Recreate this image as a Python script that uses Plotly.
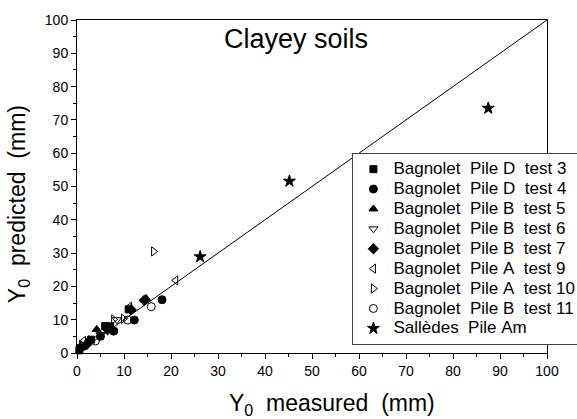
import plotly.graph_objects as go

NB = "\u00a0"

series_names = [
    f"Bagnolet{NB}{NB}Pile{NB}D{NB}{NB}test{NB}3",
    f"Bagnolet{NB}{NB}Pile{NB}D{NB}{NB}test{NB}4",
    f"Bagnolet{NB}{NB}Pile{NB}B{NB}{NB}test{NB}5",
    f"Bagnolet{NB}{NB}Pile{NB}B{NB}{NB}test{NB}6",
    f"Bagnolet{NB}{NB}Pile{NB}B{NB}{NB}test{NB}7",
    f"Bagnolet{NB}{NB}Pile{NB}A{NB}{NB}test{NB}9",
    f"Bagnolet{NB}{NB}Pile{NB}A{NB}{NB}test{NB}10",
    f"Bagnolet{NB}{NB}Pile{NB}B{NB}{NB}test{NB}11",
    f"Sallèdes{NB}{NB}Pile{NB}Am",
]

# measured (x) and predicted (y), mm
test3_x = [0.5, 3.0, 6.0, 7.0, 11.0]
test3_y = [0.8, 4.0, 8.1, 8.0, 13.1]
test4_x = [0.7, 5.0, 7.8, 12.2, 18.1]
test4_y = [1.6, 5.0, 6.6, 9.9, 16.0]
test5_x = [0.8, 2.5, 4.2, 14.7]
test5_y = [1.5, 4.0, 7.1, 16.4]
test6_x = [1.5, 5.0, 8.5]
test6_y = [2.5, 5.5, 10.0]
test7_x = [2.0, 6.5, 11.5, 14.3]
test7_y = [2.5, 7.0, 13.0, 15.8]
test9_x = [1.4, 2.5, 11.2, 21.0]
test9_y = [3.6, 3.5, 13.9, 21.8]
test10_x = [1.0, 7.8, 9.9, 16.3]
test10_y = [2.5, 10.1, 10.3, 30.5]
test11_x = [3.9, 7.8, 10.8, 15.8]
test11_y = [3.6, 6.6, 9.9, 13.9]
salledes_x = [26.2, 45.2, 87.5]
salledes_y = [28.9, 51.6, 73.5]

xs = [test3_x, test4_x, test5_x, test6_x, test7_x, test9_x, test10_x, test11_x, salledes_x]
ys = [test3_y, test4_y, test5_y, test6_y, test7_y, test9_y, test10_y, test11_y, salledes_y]
symbols = ["square", "circle", "triangle-up", "triangle-down-open", "diamond",
           "triangle-left-open", "triangle-right-open", "circle-open", "star"]
sizes = [7, 8, 8, 8, 8, 8, 8, 8, 9]

line_x = [0, 100]
line_y = [0, 100]

fig = go.Figure()
fig.add_trace(go.Scatter(x=line_x, y=line_y, mode="lines",
                         line=dict(color="black", width=1), showlegend=False,
                         hoverinfo="skip"))
for name, x, y, s, sz in zip(series_names, xs, ys, symbols, sizes):
    fig.add_trace(go.Scatter(
        x=x, y=y, mode="markers", cliponaxis=False,
        name=f"<span style='font-size:17px'>{name}</span>",
        marker=dict(symbol=s, size=sz, color="black",
                    line=dict(color="black", width=1)),
    ))

axis_common = dict(
    range=[0, 100], dtick=10, tick0=0, ticks="outside", ticklen=5, tickwidth=1,
    tickcolor="black", showline=True, linecolor="black", linewidth=1,
    mirror=True, showgrid=False, zeroline=False,
    tickfont=dict(family="Arial, Liberation Sans", size=14, color="black"),
    minor=dict(dtick=5, ticks="outside", ticklen=3, tickcolor="black", showgrid=False),
)

fig.update_layout(
    width=577, height=419,
    margin=dict(l=77, r=30, t=20, b=66, autoexpand=False),
    paper_bgcolor="white", plot_bgcolor="white",
    font=dict(family="Arial, Liberation Sans", color="black"),
    xaxis=dict(**axis_common),
    yaxis=dict(**axis_common),
    legend=dict(x=0.586, y=0.6, xanchor="left", yanchor="top",
                bgcolor="white", bordercolor="#444", borderwidth=1,
                font=dict(family="Arial, Liberation Sans", size=13, color="black"),
                tracegroupgap=0),
    annotations=[
        dict(text="Clayey soils", x=0.467, y=0.943, xref="paper", yref="paper",
             showarrow=False, font=dict(size=27, color="black"),
             xanchor="center", yanchor="middle"),
        dict(text=f"Y<sub>0</sub>{NB}{NB}measured{NB}{NB}(mm)", x=0.5436, y=-0.156,
             xref="paper", yref="paper", showarrow=False,
             font=dict(size=23, color="black"), xanchor="center", yanchor="middle"),
        dict(text=f"Y<sub>0</sub>{NB}{NB}predicted{NB}{NB}(mm)", x=-0.1255, y=0.447,
             xref="paper", yref="paper", showarrow=False, textangle=-90,
             font=dict(size=23, color="black"), xanchor="center", yanchor="middle"),
    ],
)

fig.write_html("out.html")
